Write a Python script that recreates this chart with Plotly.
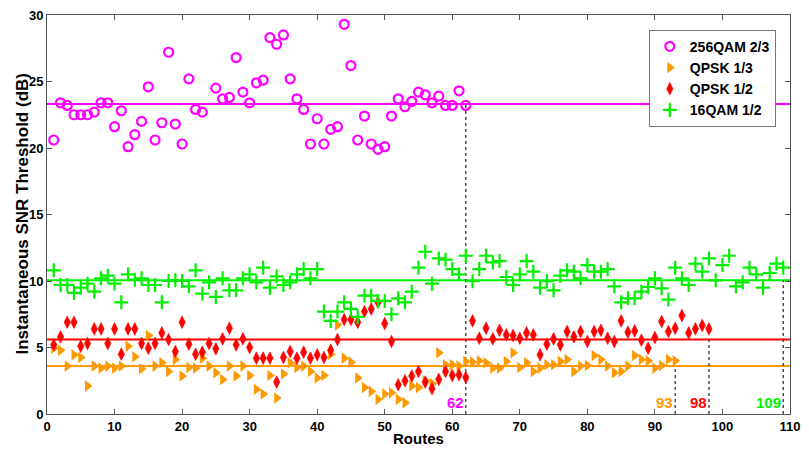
import plotly.graph_objects as go

# ---------------- data ----------------
qam256_routes = list(range(1, 24)) + list(range(25, 63))
qam256_snr = [20.6, 23.4, 23.2, 22.5, 22.5, 22.5, 22.7, 23.4, 23.4, 21.6,
              22.8, 20.1, 21.0, 22.0, 24.6, 20.6, 21.9, 27.2, 21.8, 20.3,
              25.2, 22.9, 22.7,
              24.5, 23.7, 23.8, 26.8, 24.2, 23.4, 24.9, 25.1, 28.3, 27.8,
              28.5, 25.2, 23.7, 22.9, 20.3, 22.2, 20.3, 21.4, 21.6, 29.3,
              26.2, 20.6, 22.4, 20.3, 19.9, 20.1, 22.4, 23.7, 23.1, 23.5,
              24.2, 24.0, 23.4, 23.9, 23.2, 23.2, 24.3, 23.2]

qpsk13_routes = list(range(1, 94))
qpsk13_snr = [4.95, 4.8, 3.6, 4.45, 4.25, 2.1, 3.6, 3.45, 3.6, 3.45,
              3.6, 5.1, 4.3, 3.4, 5.9, 3.6, 3.85, 3.2, 4.1, 2.85,
              3.5, 3.45, 4.2, 3.6, 3.1, 2.6, 3.6, 2.85, 3.6, 2.9,
              1.85, 1.5, 2.9, 1.2, 3.0, 3.85, 3.5, 3.6, 3.2, 2.7,
              2.9, 4.5, 6.7, 4.2, 3.9, 2.7, 2.0, 1.7, 1.1, 1.5,
              1.6, 1.1, 0.85, 2.1, 2.0, 2.5, 2.3, 4.6, 3.7, 3.7,
              3.6, 3.95, 3.9, 4.0, 3.85, 3.45, 3.45, 3.95, 4.6, 3.5,
              3.85, 3.2, 3.45, 3.7, 3.7, 3.95, 4.1, 3.2, 3.6, 3.65,
              4.4, 4.1, 3.6, 3.1, 3.2, 3.6, 4.4, 4.1, 4.0, 3.45,
              3.65, 4.1, 4.0]

qpsk12_routes = list(range(1, 99))
qpsk12_snr = [5.2, 5.8, 6.9, 6.9, 5.1, 5.3, 6.4, 6.4, 5.3, 6.4,
              4.5, 6.4, 6.4, 5.3, 4.95, 5.3, 6.1, 5.6, 4.7, 6.9,
              5.25, 4.5, 4.65, 5.3, 4.9, 5.65, 6.45, 5.2, 5.65, 5.0,
              4.2, 4.2, 4.2, 2.4, 4.25, 4.7, 4.2, 4.65, 4.2, 4.45,
              4.25, 4.8, 5.6, 7.1, 7.1, 6.9, 7.7, 7.9, 8.4, 6.8,
              5.45, 2.2, 2.5, 2.85, 3.2, 2.4, 1.9, 2.6, 3.2, 2.9,
              2.95, 2.75, 7.0, 5.7, 6.45, 5.65, 6.3, 5.95, 5.9, 5.7,
              6.1, 5.95, 4.45, 5.25, 5.65, 5.2, 6.2, 5.8, 6.2, 5.45,
              6.2, 6.3, 5.7, 5.45, 7.0, 6.15, 6.25, 5.55, 4.95, 5.75,
              6.95, 6.2, 6.45, 7.4, 6.1, 6.4, 6.65, 6.4]

qam16_routes = list(range(1, 110))
qam16_snr = [10.8, 9.7, 9.7, 9.1, 9.5, 9.8, 9.2, 10.2, 10.4, 9.8,
             8.4, 10.5, 10.1, 10.2, 9.7, 9.7, 8.4, 10.0, 10.05, 10.0,
             9.6, 10.8, 9.05, 9.9, 8.8, 10.2, 9.3, 9.3, 10.2, 10.5,
             9.9, 11.0, 9.5, 10.35, 9.7, 9.9, 10.5, 10.9, 10.2, 10.9,
             7.7, 7.0, 7.7, 8.4, 7.9, 7.3, 8.9, 8.9, 8.5, 8.5,
             7.5, 8.7, 8.4, 9.2, 11.0, 12.2, 9.8, 11.7, 11.6, 10.9,
             10.5, 11.9, 9.98, 10.9, 11.9, 11.4, 11.5, 10.3, 9.7, 10.5,
             11.5, 10.7, 9.5, 9.98, 9.3, 10.4, 10.8, 10.7, 10.2, 11.2,
             10.7, 10.7, 10.9, 9.6, 8.4, 8.7, 8.7, 9.2, 9.55, 10.2,
             9.45, 8.6, 11.0, 10.2, 9.7, 11.3, 10.7, 11.7, 10.05, 11.2,
             11.9, 9.6, 9.9, 11.0, 10.5, 9.5, 10.6, 11.3, 11.0]

series_names = ["256QAM 2/3", "QPSK 1/3", "QPSK 1/2", "16QAM 1/2"]
mean_levels = [23.3, 3.6, 5.6, 10.05]       # horizontal threshold lines
route_counts = [62, 93, 98, 109]            # number of routes per scheme
x_range = [0, 110]
x_ticks = list(range(0, 111, 10))
y_ticks = list(range(0, 31, 5))

colors = ["#ff00ff", "#ff9900", "#ff0000", "#00f000"]
FONT = "Liberation Sans, Arial, Helvetica, sans-serif"

fig = go.Figure()

# horizontal mean lines
for lvl, c in zip(mean_levels, colors):
    fig.add_trace(go.Scatter(x=x_range, y=[lvl, lvl], mode="lines",
                             line=dict(color=c, width=2), showlegend=False,
                             hoverinfo="skip"))

# vertical dashed markers
for n, lvl in zip(route_counts, mean_levels):
    fig.add_trace(go.Scatter(x=[n, n], y=[0, lvl], mode="lines",
                             line=dict(color="#333333", width=1.3, dash="dot"),
                             showlegend=False, hoverinfo="skip"))

fig.add_trace(go.Scatter(x=qam256_routes, y=qam256_snr, mode="markers",
                         name=series_names[0],
                         marker=dict(symbol="circle-open", size=9,
                                     color=colors[0], line=dict(width=2.2, color=colors[0]))))
fig.add_trace(go.Scatter(x=qpsk13_routes, y=qpsk13_snr, mode="markers",
                         name=series_names[1],
                         marker=dict(symbol="triangle-right", size=10,
                                     color=colors[1], line=dict(width=0))))
fig.add_trace(go.Scatter(x=qpsk12_routes, y=qpsk12_snr, mode="markers",
                         name=series_names[2],
                         marker=dict(symbol="diamond-tall", size=9,
                                     color=colors[2], line=dict(width=0.6, color=colors[2]))))
fig.add_trace(go.Scatter(x=qam16_routes, y=qam16_snr, mode="markers",
                         name=series_names[3],
                         marker=dict(symbol="cross-thin", size=10,
                                     color=colors[3], line=dict(width=2.2, color=colors[3]))))

# count labels
for n, c in zip(route_counts, colors):
    fig.add_annotation(x=n, y=0, text=f"<b>{n}</b>", showarrow=False,
                       xanchor="right", yanchor="bottom", xshift=0, yshift=1,
                       font=dict(family=FONT, size=15, color=c))

# axis titles as annotations for exact placement
fig.add_annotation(xref="paper", yref="paper", x=0.5, y=0, yanchor="middle",
                   yshift=-24, text="<b>Routes</b>", showarrow=False,
                   font=dict(family=FONT, size=15, color="black"))
fig.add_annotation(xref="paper", yref="paper", x=0, y=0.5, xanchor="center",
                   xshift=-25, textangle=-90,
                   text="<b>Instantaneous SNR Threshold (dB)</b>", showarrow=False,
                   font=dict(family=FONT, size=17, color="black"))

axis_common = dict(showline=True, linecolor="#555555", linewidth=1, mirror="ticks",
                   ticks="inside", ticklen=5, tickcolor="#555555", showgrid=False,
                   zeroline=False, automargin=False, ticklabeloverflow="allow",
                   tickfont=dict(family=FONT, size=13, color="black", weight="bold"))

fig.update_xaxes(range=x_range, tickvals=x_ticks, **axis_common)
fig.update_yaxes(range=[0, 30], tickvals=y_ticks, **axis_common)

# page body has an 8px margin: figure is sized/offset so the plot box lands
# at (nearly) the same page pixels as the reference
fig.update_layout(
    width=801, height=438,
    margin=dict(l=39, r=19, t=7, b=32, autoexpand=False),
    plot_bgcolor="white", paper_bgcolor="white",
    font=dict(family=FONT, color="black"),
    legend=dict(x=0.81, y=0.963, xanchor="left", yanchor="top",
                bgcolor="white", bordercolor="#777777", borderwidth=1,
                font=dict(family=FONT, size=14, color="black", weight="bold"),
                itemwidth=30),
)

fig.write_html("out.html")
